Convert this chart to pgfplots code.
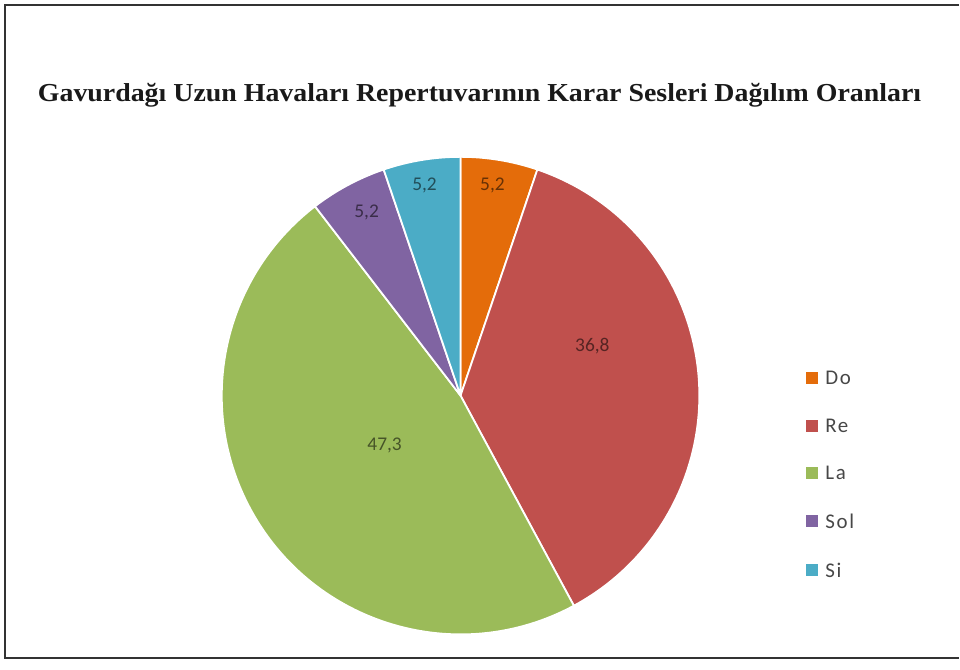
\documentclass[border=0pt]{standalone}
\usepackage{pgfplots}
\pgfplotsset{compat=1.18}
\usepackage{pgfplotstable}
\usepackage{fontspec}
\setmainfont{Liberation Serif}
\newfontfamily\calib{Carlito}
\newfontfamily\calibsp{Carlito}[LetterSpace=8]
\definecolor{cDo}{HTML}{E46C0A}
\definecolor{cRe}{HTML}{C0504D}
\definecolor{cLa}{HTML}{9BBB59}
\definecolor{cSol}{HTML}{8064A2}
\definecolor{cSi}{HTML}{4BACC6}
\definecolor{frame}{HTML}{333333}
\pgfplotstableread[col sep=comma]{
name,value,col,lx,ly,gy
Do,5.2,cDo,493,480,288
Re,36.8,cRe,593,320,240
La,47.3,cLa,385,220,193
Sol,5.2,cSol,367,453,144
Si,5.2,cSi,425,480,95
}\pietable
\begin{document}
\begin{tikzpicture}
\begin{axis}[
  width=960bp, height=666bp, scale only axis,
  xmin=0, xmax=960, ymin=0, ymax=666,
  hide axis, clip=false,
  /pgf/number format/assume math mode=true,
]
\path (axis cs:0,0) rectangle (axis cs:960,666);
% frame
\draw[frame, line width=2bp] (axis cs:960,661) -- (axis cs:5,661) -- (axis cs:5,7) -- (axis cs:960,7);
% title
\node[font=\fontsize{26}{30}\selectfont\bfseries, text=black!90, inner sep=0pt] at (axis cs:480,571) {\scalebox{1.077}[1]{Gavurdağı Uzun Havaları Repertuvarının Karar Sesleri Dağılım Oranları}};
% total
\def\total{0}
\pgfplotsforeachungrouped \i in {0,...,4}{%
  \pgfplotstablegetelem{\i}{value}\of\pietable
  \pgfmathsetmacro\total{\total+\pgfplotsretval}%
}
\pgfmathsetmacro\unit{360/\total}
\def\cum{0}
\pgfplotsforeachungrouped \i in {0,...,4}{%
  \pgfplotstablegetelem{\i}{value}\of\pietable \let\v\pgfplotsretval
  \pgfplotstablegetelem{\i}{col}\of\pietable \let\c\pgfplotsretval
  \pgfplotstablegetelem{\i}{name}\of\pietable \let\n\pgfplotsretval
  \pgfplotstablegetelem{\i}{lx}\of\pietable \let\lx\pgfplotsretval
  \pgfplotstablegetelem{\i}{ly}\of\pietable \let\ly\pgfplotsretval
  \pgfplotstablegetelem{\i}{gy}\of\pietable \let\gy\pgfplotsretval
  \pgfmathsetmacro\s{90-\unit*\cum}%
  \pgfmathsetmacro\e{\s-\unit*\v}%
  \edef\temp{%
    \noexpand\fill[\c, draw=white, line width=1.8bp, line join=round] (axis cs:461,270) -- ++(\s:239bp) arc[start angle=\s, end angle=\e, radius=239bp] -- cycle;
    \noexpand\node[font=\noexpand\calib\noexpand\fontsize{19.5}{22}\noexpand\selectfont, text=\c!45!black] at (axis cs:\lx,\ly) {\noexpand\pgfmathprintnumber[use comma,fixed,fixed zerofill,precision=1]{\v}};
    \noexpand\fill[\c] (axis cs:807,\gy) ++(0bp,-6bp) rectangle ++(12bp,12bp);
    \noexpand\node[anchor=west, inner sep=0pt, font=\noexpand\calibsp\noexpand\fontsize{21}{24}\noexpand\selectfont, text=black!72] at (axis cs:826,\gy) {\n};
  }%
  \temp
  \pgfmathsetmacro\cum{\cum+\v}%
}
\end{axis}
\end{tikzpicture}
\end{document}
